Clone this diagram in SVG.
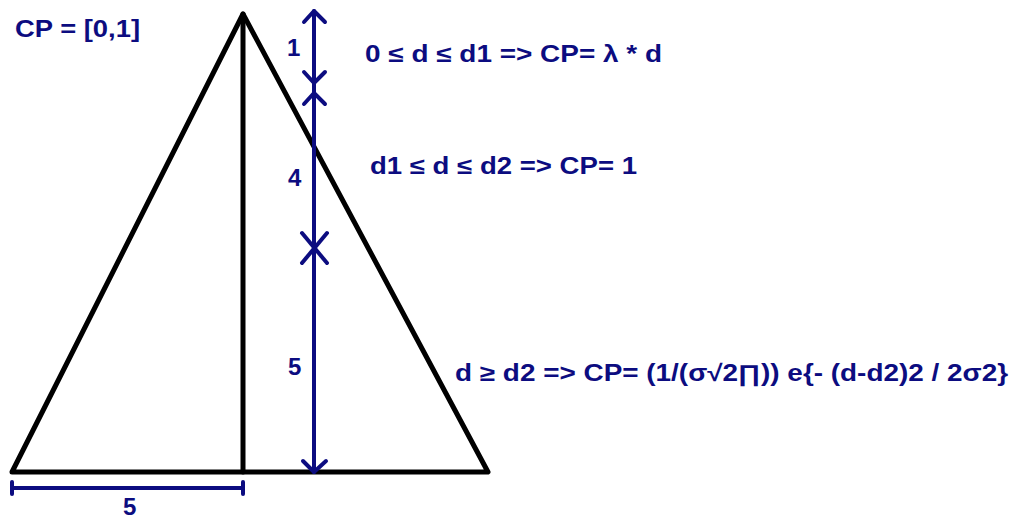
<svg xmlns="http://www.w3.org/2000/svg" width="1015" height="519" viewBox="0 0 1015 519">
<style>
.k{stroke:#000;stroke-width:5;fill:none;stroke-linecap:round;stroke-linejoin:round}
.b{stroke:#0c0c80;stroke-width:4;fill:none;stroke-linecap:round;stroke-linejoin:round}
.t{font-family:"Liberation Sans",Arial,sans-serif;font-weight:bold;font-size:23px;fill:#0c0c80}
.n{font-family:"Liberation Sans",Arial,sans-serif;font-weight:bold;font-size:24px;fill:#0c0c80}
</style>
<rect width="1015" height="519" fill="#fff"/>
<g id="triangle">
<path class="k" d="M12,472 L243,14 L488,472 Z"/>
<line class="k" x1="243" y1="14" x2="243" y2="472"/>
</g>
<g id="connectors">
<line class="b" x1="314" y1="11" x2="314" y2="472"/>
<polyline class="b" points="304,22 314,11 325,22"/>
<polyline class="b" points="304,72 314,83 325,72"/>
<polyline class="b" points="304,104 314,93 325,104"/>
<line class="b" x1="302" y1="233" x2="327" y2="263"/>
<line class="b" x1="327" y1="233" x2="302" y2="263"/>
<polyline class="b" points="303,461 314,472 326,461"/>
<line class="b" x1="12" y1="488" x2="243" y2="488"/>
<line class="b" x1="12" y1="482" x2="12" y2="494"/>
<line class="b" x1="243" y1="482" x2="243" y2="494"/>
</g>
<g id="labels">
<text class="t" x="15" y="37" textLength="125" lengthAdjust="spacingAndGlyphs">CP = [0,1]</text>
<text class="n" x="287" y="56">1</text>
<text class="n" x="288" y="186">4</text>
<text class="n" x="288" y="375">5</text>
<text class="n" x="123" y="515">5</text>
<text class="t" x="365" y="62" textLength="297" lengthAdjust="spacingAndGlyphs">0 ≤ d ≤ d1 =&gt; CP= λ * d</text>
<text class="t" x="370" y="174" textLength="267" lengthAdjust="spacingAndGlyphs">d1 ≤ d ≤ d2 =&gt; CP= 1</text>
<text class="t" x="455" y="381" textLength="553" lengthAdjust="spacingAndGlyphs">d ≥ d2 =&gt; CP= (1/(σ√2∏)) e{- (d-d2)2 / 2σ2}</text>
</g>
</svg>
